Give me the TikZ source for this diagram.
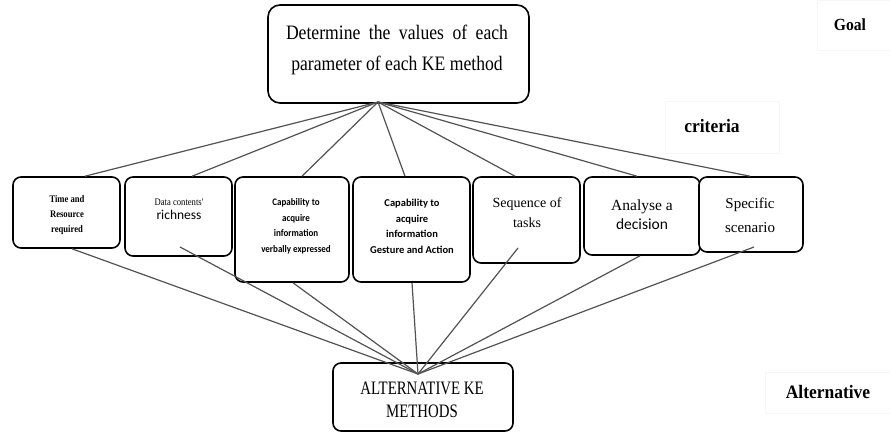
\documentclass[tikz,border=0pt]{standalone}
\usepackage{fontspec}
\usetikzlibrary{calc}
\setmainfont{Liberation Serif}
\newfontfamily\condserif[FakeStretch=0.86]{Liberation Serif}
\newfontfamily\narrowserif[FakeStretch=0.78]{Liberation Serif}
\newfontfamily\labelserif[FakeStretch=0.92]{Liberation Serif}
\newfontfamily\calib{Carlito}
\newfontfamily\calibcond[FakeStretch=0.9]{Carlito}
\begin{document}
\begin{tikzpicture}[x=1pt,y=-1pt,
  box/.style={draw=black,line width=1.6pt,rounded corners=8pt,inner sep=0pt,fill=white},
  txt/.style={inner sep=0pt,align=center,text=black},
  link/.style={draw=black!68,line width=1.2pt},
  faint/.style={draw=black!3,line width=0.6pt,inner sep=0pt}]
\useasboundingbox (0,0) rectangle (890,434);
% faint label frames
\node[faint,minimum width=73pt,minimum height=50pt] (goalbox) at (853.5,25) {};
\node[faint,minimum width=114pt,minimum height=52pt] (critbox) at (722,127) {};
\node[faint,minimum width=125pt,minimum height=41pt] (altbox) at (827.5,392.5) {};
% boxes
\node[box,rounded corners=12pt,minimum width=261pt,minimum height=98pt] (goal) at (398.5,54) {};
\node[box,minimum width=107pt,minimum height=71pt] (c1) at (66.5,212.5) {};
\node[box,minimum width=107pt,minimum height=79pt] (c2) at (178.5,216.5) {};
\node[box,minimum width=114pt,minimum height=105pt] (c3) at (292,229.5) {};
\node[box,minimum width=117pt,minimum height=105pt] (c4) at (411.5,229.5) {};
\node[box,minimum width=107pt,minimum height=86pt] (c5) at (526.5,220) {};
\node[box,minimum width=116pt,minimum height=78pt] (c6) at (642,216) {};
\node[box,minimum width=104pt,minimum height=75pt] (c7) at (751,214.5) {};
\node[box,minimum width=180pt,minimum height=68pt] (alt) at (423,397) {};
% apexes
\coordinate (gA) at (378,102);
\coordinate (aA) at (418,374);
% connectors goal -> criteria
\draw[link] (gA) -- ([xshift=18.5pt]c1.north);
\draw[link] (gA) -- ([xshift=13.5pt]c2.north);
\draw[link] (gA) -- ([xshift=10pt]c3.north);
\draw[link] (gA) -- ([xshift=-6.5pt]c4.north);
\draw[link] (gA) -- ([xshift=-11.5pt]c5.north);
\draw[link] (gA) -- ([xshift=-5pt]c6.north);
\draw[link] (gA) -- ([xshift=-1pt]c7.north);
% connectors criteria -> alternative
\draw[link] ([xshift=5.5pt]c1.south) -- (aA);
\draw[link] ($(c2.center)+(1.5,30.5)$) -- (aA);
\draw[link] ([xshift=1pt]c3.south) -- (aA);
\draw[link] ([xshift=0.5pt]c4.south) -- (aA);
\draw[link] ($(c5.center)+(-8.5,28)$) -- (aA);
\draw[link] ([xshift=-2pt]c6.south) -- (aA);
\draw[link] ($(c7.center)+(3,32.5)$) -- (aA);
% texts
\node[txt,font=\condserif\fontsize{20.5}{31}\selectfont] (goaltxt) at (397,50)
  {\makebox[222pt][s]{Determine the values of each}\\parameter of each KE method};
\node[txt,font=\condserif\bfseries\fontsize{10}{15}\selectfont] (t1) at (67,215)
  {Time and\\Resource\\required};
\node[txt] (t2) at (179,209)
  {{\condserif\fontsize{10}{12}\selectfont Data contents'}\\[2pt]{\calib\fontsize{13.5}{14}\selectfont richness}};
\node[txt,font=\calibcond\bfseries\fontsize{10}{15.5}\selectfont] (t3) at (296,226.5)
  {Capability to\\acquire\\information\\verbally expressed};
\node[txt,font=\calib\bfseries\fontsize{10.5}{15.5}\selectfont] (t4) at (412,226.5)
  {Capability to\\acquire\\information\\Gesture and Action};
\node[txt,font=\fontsize{14}{20}\selectfont] (t5) at (527,213)
  {Sequence of\\tasks};
\node[txt] (t6) at (642,215)
  {{\fontsize{15.5}{17}\selectfont Analyse a}\\[4pt]{\calib\fontsize{15.5}{17}\selectfont decision}};
\node[txt,font=\fontsize{15}{24}\selectfont] (t7) at (750,215)
  {Specific\\scenario};
\node[txt,font=\narrowserif\fontsize{19}{23}\selectfont] (alttxt) at (422,400)
  {ALTERNATIVE KE\\METHODS};
\node[txt,font=\labelserif\bfseries\fontsize{17}{20}\selectfont] (goallab) at (850,25) {Goal};
\node[txt,font=\labelserif\bfseries\fontsize{19}{22}\selectfont] (critlab) at (712,126) {criteria};
\node[txt,font=\labelserif\bfseries\fontsize{19}{22}\selectfont] (altlab) at (828,392) {Alternative};
\end{tikzpicture}
\end{document}
